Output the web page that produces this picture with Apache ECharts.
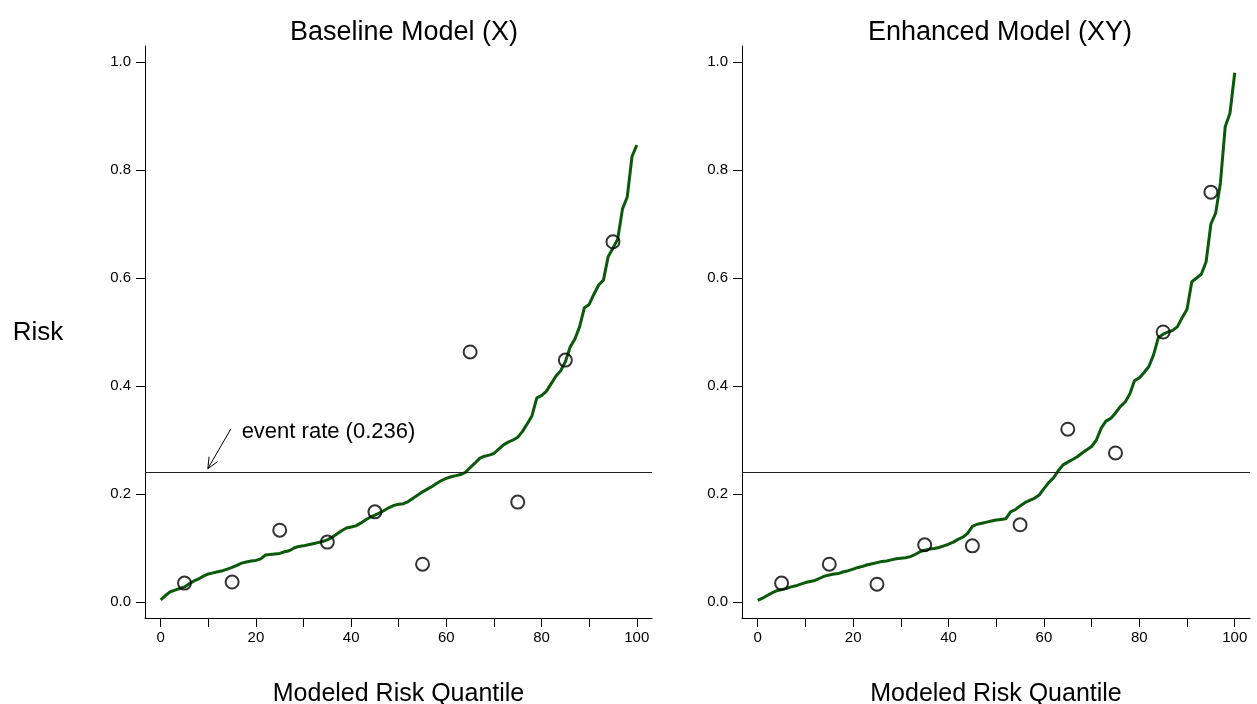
<!DOCTYPE html>
<html>
<head>
<meta charset="utf-8">
<script src="https://cdn.jsdelivr.net/npm/echarts@6/dist/echarts.min.js"></script>
<style>
  html, body { margin: 0; padding: 0; background: #fff; }
  #chart { width: 1257px; height: 704px; }
</style>
</head>
<body>
<div id="chart"></div>
<script>
// quantile positions of the smoothed risk curves
const quantiles = [];
for (let i = 0; i <= 100; i++) quantiles.push(i);

const baselineCurve = [
  0.004, 0.012, 0.019, 0.022, 0.025, 0.028, 0.034, 0.039, 0.043, 0.048,
  0.052, 0.054, 0.056, 0.058, 0.061, 0.064, 0.068, 0.072, 0.074, 0.076,
  0.077, 0.080, 0.087, 0.088, 0.089, 0.090, 0.093, 0.095, 0.100, 0.103,
  0.104, 0.106, 0.108, 0.110, 0.112, 0.115, 0.120, 0.126, 0.132, 0.137,
  0.139, 0.141, 0.146, 0.152, 0.157, 0.161, 0.165, 0.170, 0.175, 0.179,
  0.181, 0.182, 0.186, 0.192, 0.198, 0.204, 0.209, 0.214, 0.220, 0.225,
  0.229, 0.232, 0.234, 0.236, 0.240, 0.249, 0.257, 0.266, 0.270, 0.272,
  0.275, 0.283, 0.291, 0.296, 0.300, 0.305, 0.316, 0.330, 0.345, 0.378,
  0.382, 0.390, 0.404, 0.418, 0.428, 0.445, 0.472, 0.487, 0.510, 0.545,
  0.551, 0.570, 0.587, 0.596, 0.640, 0.655, 0.672, 0.728, 0.750, 0.825,
  0.846
];

const enhancedCurve = [
  0.003, 0.007, 0.012, 0.017, 0.021, 0.023, 0.025, 0.028, 0.030, 0.033,
  0.036, 0.038, 0.040, 0.044, 0.048, 0.050, 0.052, 0.053, 0.056, 0.058,
  0.061, 0.064, 0.066, 0.069, 0.071, 0.073, 0.075, 0.076, 0.078, 0.080,
  0.081, 0.082, 0.084, 0.088, 0.093, 0.096, 0.098, 0.099, 0.101, 0.104,
  0.107, 0.111, 0.116, 0.120, 0.127, 0.140, 0.144, 0.146, 0.148, 0.150,
  0.152, 0.153, 0.154, 0.167, 0.171, 0.178, 0.184, 0.188, 0.192, 0.198,
  0.210, 0.221, 0.230, 0.243, 0.254, 0.259, 0.264, 0.269, 0.276, 0.282,
  0.288, 0.300, 0.322, 0.335, 0.340, 0.350, 0.362, 0.370, 0.385, 0.410,
  0.415, 0.425, 0.436, 0.458, 0.490, 0.496, 0.500, 0.503, 0.510, 0.527,
  0.542, 0.593, 0.600, 0.607, 0.630, 0.700, 0.720, 0.776, 0.880, 0.905,
  0.980
];

// observed risk per decile (midpoints)
const decileMid = [5, 15, 25, 35, 45, 55, 65, 75, 85, 95];
const baselineObserved = [0.035, 0.037, 0.133, 0.111, 0.167, 0.070, 0.463, 0.185, 0.448, 0.667];
const enhancedObserved = [0.035, 0.070, 0.033, 0.106, 0.104, 0.143, 0.320, 0.276, 0.500, 0.759];

const eventRate = 0.236;
const titles = ['Baseline Model (X)', 'Enhanced Model (XY)'];
const yTickValues = [0, 0.2, 0.4, 0.6, 0.8, 1.0];
const xLabelValues = [0, 20, 40, 60, 80, 100];
const xTickValues = [0, 10, 20, 30, 40, 50, 60, 70, 80, 90, 100];

const FONT = '"Liberation Sans", Arial, sans-serif';
const curveColor = '#0b5a0b';

const chart = echarts.init(document.getElementById('chart'), null, { renderer: 'canvas' });

function pairs(xs, ys) {
  return xs.map((x, i) => [x, ys[i]]);
}

const grids = [
  { left: 145, right: 605, top: 46, bottom: 86, containLabel: false, outerBoundsMode: 'none' },
  { left: 742, right: 7, top: 46, bottom: 86, containLabel: false, outerBoundsMode: 'none' }
];

const xAxes = grids.map((g, i) => ({
  type: 'value',
  gridIndex: i,
  min: -3.3,
  max: 103.2,
  splitLine: { show: false },
  axisLine: { show: true, onZero: false, lineStyle: { color: '#000', width: 1 } },
  axisTick: { show: true, length: 9, customValues: xTickValues, lineStyle: { color: '#000' } },
  axisLabel: { customValues: xLabelValues, color: '#000', fontSize: 15, fontFamily: FONT, margin: 12 },
  name: 'Modeled Risk Quantile',
  nameLocation: 'middle',
  nameGap: 64,
  nameTextStyle: { color: '#000', fontSize: 25, fontFamily: FONT }
}));

const yAxes = grids.map((g, i) => ({
  type: 'value',
  gridIndex: i,
  min: -0.0296,
  max: 1.0296,
  splitLine: { show: false },
  axisLine: { show: true, onZero: false, lineStyle: { color: '#000', width: 1 } },
  axisTick: { show: true, length: 9, customValues: yTickValues, lineStyle: { color: '#000' } },
  axisLabel: {
    customValues: yTickValues, color: '#000', fontSize: 15, fontFamily: FONT, margin: 14,
    formatter: v => v.toFixed(1)
  }
}));

const series = [];
[[baselineCurve, baselineObserved], [enhancedCurve, enhancedObserved]].forEach((d, i) => {
  series.push({
    type: 'line',
    xAxisIndex: i,
    yAxisIndex: i,
    data: pairs(quantiles, d[0]),
    showSymbol: false,
    lineStyle: { color: curveColor, width: 3 },
    z: 2,
    markLine: {
      silent: true,
      symbol: ['none', 'none'],
      label: { show: false },
      lineStyle: { color: '#222', width: 1, type: 'solid' },
      data: [{ yAxis: eventRate }]
    }
  });
  series.push({
    type: 'scatter',
    xAxisIndex: i,
    yAxisIndex: i,
    data: pairs(decileMid, d[1]),
    symbol: 'circle',
    symbolSize: 13,
    itemStyle: { color: 'rgba(255,255,255,0)', borderColor: '#000', borderWidth: 2 },
    z: 3
  });
});

chart.setOption({
  animation: false,
  backgroundColor: '#fff',
  title: [
    { text: titles[0], left: 399, top: 14, textAlign: 'center',
      textStyle: { fontSize: 27, fontWeight: 'normal', color: '#000', fontFamily: FONT } },
    { text: titles[1], left: 995, top: 14, textAlign: 'center',
      textStyle: { fontSize: 27, fontWeight: 'normal', color: '#000', fontFamily: FONT } }
  ],
  grid: grids,
  xAxis: xAxes,
  yAxis: yAxes,
  series: series
});

// annotation: arrow pointing at the event-rate line and its label
const tail = chart.convertToPixel({ gridIndex: 0 }, [14.7, 0.320]);
const tip = chart.convertToPixel({ gridIndex: 0 }, [9.9, 0.247]);
const ang = Math.atan2(tail[1] - tip[1], tail[0] - tip[0]);
const headLen = 12, spread = 0.42;
const h1 = [tip[0] + headLen * Math.cos(ang + spread), tip[1] + headLen * Math.sin(ang + spread)];
const h2 = [tip[0] + headLen * Math.cos(ang - spread), tip[1] + headLen * Math.sin(ang - spread)];
const labelPos = chart.convertToPixel({ gridIndex: 0 }, [17, 0.315]);

chart.setOption({
  graphic: [
    { type: 'line', shape: { x1: tail[0], y1: tail[1], x2: tip[0], y2: tip[1] },
      style: { stroke: '#000', lineWidth: 1 } },
    { type: 'polyline', shape: { points: [h1, tip, h2] },
      style: { stroke: '#000', lineWidth: 1, fill: null } },
    { type: 'text', x: labelPos[0], y: labelPos[1],
      style: { text: 'event rate (0.236)', fill: '#000', fontSize: 22, fontFamily: FONT,
        verticalAlign: 'middle' } },
    { type: 'text', x: 38, y: 333,
      style: { text: 'Risk', fill: '#000', fontSize: 26, fontFamily: FONT,
        align: 'center', verticalAlign: 'middle' } }
  ]
});
</script>
</body>
</html>
